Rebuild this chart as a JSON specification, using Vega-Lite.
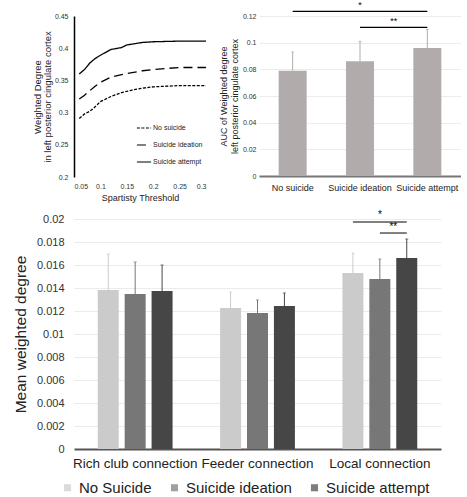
{
  "$schema": "https://vega.github.io/schema/vega-lite/v6.json",
  "padding": {"left": 13, "top": 0, "right": 0, "bottom": 0},
  "background": "white",
  "config": {
    "font": "Liberation Sans",
    "view": {"stroke": null},
    "axis": {"labelColor": "#333", "titleColor": "#222", "titleFontWeight": "normal", "labelOverlap": false}
  },
  "datasets": {
    "lines": [
      {"threshold": 0.06, "degree": 0.291, "group": "No suicide"},
      {"threshold": 0.07, "degree": 0.298, "group": "No suicide"},
      {"threshold": 0.08, "degree": 0.302, "group": "No suicide"},
      {"threshold": 0.09, "degree": 0.309, "group": "No suicide"},
      {"threshold": 0.10, "degree": 0.317, "group": "No suicide"},
      {"threshold": 0.12, "degree": 0.325, "group": "No suicide"},
      {"threshold": 0.14, "degree": 0.331, "group": "No suicide"},
      {"threshold": 0.16, "degree": 0.335, "group": "No suicide"},
      {"threshold": 0.18, "degree": 0.338, "group": "No suicide"},
      {"threshold": 0.20, "degree": 0.340, "group": "No suicide"},
      {"threshold": 0.25, "degree": 0.342, "group": "No suicide"},
      {"threshold": 0.30, "degree": 0.342, "group": "No suicide"},
      {"threshold": 0.06, "degree": 0.321, "group": "Suicide ideation"},
      {"threshold": 0.07, "degree": 0.327, "group": "Suicide ideation"},
      {"threshold": 0.08, "degree": 0.334, "group": "Suicide ideation"},
      {"threshold": 0.09, "degree": 0.341, "group": "Suicide ideation"},
      {"threshold": 0.10, "degree": 0.347, "group": "Suicide ideation"},
      {"threshold": 0.12, "degree": 0.355, "group": "Suicide ideation"},
      {"threshold": 0.14, "degree": 0.359, "group": "Suicide ideation"},
      {"threshold": 0.16, "degree": 0.362, "group": "Suicide ideation"},
      {"threshold": 0.18, "degree": 0.365, "group": "Suicide ideation"},
      {"threshold": 0.20, "degree": 0.367, "group": "Suicide ideation"},
      {"threshold": 0.25, "degree": 0.370, "group": "Suicide ideation"},
      {"threshold": 0.30, "degree": 0.370, "group": "Suicide ideation"},
      {"threshold": 0.06, "degree": 0.360, "group": "Suicide attempt"},
      {"threshold": 0.07, "degree": 0.367, "group": "Suicide attempt"},
      {"threshold": 0.08, "degree": 0.377, "group": "Suicide attempt"},
      {"threshold": 0.09, "degree": 0.384, "group": "Suicide attempt"},
      {"threshold": 0.10, "degree": 0.389, "group": "Suicide attempt"},
      {"threshold": 0.12, "degree": 0.398, "group": "Suicide attempt"},
      {"threshold": 0.14, "degree": 0.401, "group": "Suicide attempt"},
      {"threshold": 0.15, "degree": 0.405, "group": "Suicide attempt"},
      {"threshold": 0.18, "degree": 0.409, "group": "Suicide attempt"},
      {"threshold": 0.20, "degree": 0.410, "group": "Suicide attempt"},
      {"threshold": 0.25, "degree": 0.411, "group": "Suicide attempt"},
      {"threshold": 0.30, "degree": 0.411, "group": "Suicide attempt"}
    ],
    "auc": [
      {"group": "No suicide", "auc": 0.079, "upper": 0.093},
      {"group": "Suicide ideation", "auc": 0.086, "upper": 0.101},
      {"group": "Suicide attempt", "auc": 0.096, "upper": 0.110}
    ],
    "aucsig": [
      {"group": "No suicide", "y": 0.1235, "pair": "a"},
      {"group": "Suicide attempt", "y": 0.1235, "pair": "a"},
      {"group": "Suicide ideation", "y": 0.1115, "pair": "b"},
      {"group": "Suicide attempt", "y": 0.1115, "pair": "b"}
    ],
    "aucstars": [
      {"group": "Suicide ideation", "y": 0.1245, "label": "*", "pos": 0.5},
      {"group": "Suicide ideation", "y": 0.1125, "label": "**", "pos": 1}
    ],
    "mwd": [
      {"conn": "Rich club connection", "group": "No Suicide", "mean": 0.01383, "upper": 0.01696},
      {"conn": "Rich club connection", "group": "Suicide ideation", "mean": 0.01348, "upper": 0.01626},
      {"conn": "Rich club connection", "group": "Suicide attempt", "mean": 0.01374, "upper": 0.01600},
      {"conn": "Feeder connection", "group": "No Suicide", "mean": 0.01226, "upper": 0.01365},
      {"conn": "Feeder connection", "group": "Suicide ideation", "mean": 0.01183, "upper": 0.01296},
      {"conn": "Feeder connection", "group": "Suicide attempt", "mean": 0.01243, "upper": 0.01357},
      {"conn": "Local connection", "group": "No Suicide", "mean": 0.01530, "upper": 0.01704},
      {"conn": "Local connection", "group": "Suicide ideation", "mean": 0.01478, "upper": 0.01652},
      {"conn": "Local connection", "group": "Suicide attempt", "mean": 0.01660, "upper": 0.01826}
    ],
    "mwdsig": [
      {"conn": "Local connection", "group": "No Suicide", "y": 0.01974, "pair": "a"},
      {"conn": "Local connection", "group": "Suicide attempt", "y": 0.01974, "pair": "a"},
      {"conn": "Local connection", "group": "Suicide ideation", "y": 0.01878, "pair": "b"},
      {"conn": "Local connection", "group": "Suicide attempt", "y": 0.01878, "pair": "b"}
    ],
    "mwdstars": [
      {"conn": "Local connection", "y": 0.0199, "label": "*", "pos": 0.5},
      {"conn": "Local connection", "y": 0.0189, "label": "**", "pos": 0.667}
    ]
  },
  "vconcat": [
    {
      "hconcat": [
        {
          "width": 132,
          "height": 161,
          "data": {"name": "lines"},
          "mark": {"type": "line", "color": "black", "strokeWidth": 1.3},
          "encoding": {
            "x": {
              "field": "threshold", "type": "quantitative",
              "scale": {"domain": [0.05, 0.3], "nice": false, "zero": false},
              "axis": {"values": [0.05, 0.1, 0.15, 0.2, 0.25, 0.3], "format": ".2~f", "title": "Spartisty Threshold", "tickCount": 30,
                       "grid": false, "domain": false, "ticks": false, "labelFontSize": 7, "titleFontSize": 9, "labelPadding": 5, "titlePadding": 4}
            },
            "y": {
              "field": "degree", "type": "quantitative",
              "scale": {"domain": [0.2, 0.45], "nice": false, "zero": false},
              "axis": {"values": [0.2, 0.25, 0.3, 0.35, 0.4, 0.45], "format": ".2~f", "tickCount": 30,
                       "title": ["Weighted Degree", "in left posterior cingulate cortex"],
                       "grid": false, "domain": true, "domainColor": "black", "domainWidth": 1.5, "ticks": false,
                       "labelFontSize": 7, "titleFontSize": 9.5, "titleLineHeight": 10, "labelPadding": 6, "titlePadding": 2}
            },
            "strokeDash": {
              "field": "group", "type": "nominal",
              "scale": {"domain": ["No suicide", "Suicide ideation", "Suicide attempt"], "range": [[3, 1.5], [9, 5], [1, 0]]},
              "legend": {"orient": "none", "legendX": 62, "legendY": 104, "title": null, "labelFontSize": 7, "labelColor": "#222",
                         "symbolType": "stroke", "symbolStrokeColor": "black", "symbolSize": 200, "symbolStrokeWidth": 1.2, "rowPadding": 6, "labelOffset": 1}
            }
          }
        },
        {
          "width": 202,
          "height": 160,
          "encoding": {
            "x": {"field": "group", "type": "nominal", "sort": ["No suicide", "Suicide ideation", "Suicide attempt"],
                  "scale": {"paddingInner": 0, "paddingOuter": 0},
                  "axis": {"title": null, "labelAngle": 0, "labelFontSize": 9, "ticks": false, "domainColor": "#777", "domainWidth": 2, "labelPadding": 7, "labelColor": "#222"}}
          },
          "layer": [
            {
              "data": {"name": "auc"},
              "mark": {"type": "bar", "color": "#b1acab", "size": 28},
              "encoding": {
                "y": {"field": "auc", "type": "quantitative", "scale": {"domain": [0, 0.12], "nice": false},
                      "axis": {"values": [0, 0.02, 0.04, 0.06, 0.08, 0.1, 0.12], "format": ".2~f", "tickCount": 30,
                               "title": ["AUC of Weighted degree", "left posterior cingulate cortex"],
                               "titleFontSize": 9, "titleLineHeight": 11, "labelFontSize": 7, "domain": false, "ticks": false, "gridColor": "#ececec", "labelPadding": 3, "titlePadding": 3}}
              }
            },
            {
              "data": {"name": "auc"},
              "mark": {"type": "rule", "color": "#b1acab", "strokeWidth": 1},
              "encoding": {
                "y": {"field": "auc", "type": "quantitative"},
                "y2": {"field": "upper"}
              }
            },
            {
              "data": {"name": "auc"},
              "mark": {"type": "tick", "color": "#b1acab", "size": 3, "thickness": 1},
              "encoding": {
                "y": {"field": "upper", "type": "quantitative"}
              }
            },
            {
              "data": {"name": "aucsig"},
              "mark": {"type": "line", "color": "black", "strokeWidth": 1.3},
              "encoding": {
                "y": {"field": "y", "type": "quantitative"},
                "detail": {"field": "pair"}
              }
            },
            {
              "data": {"name": "aucstars"},
              "transform": [{"filter": "datum.pos == 0.5"}],
              "mark": {"type": "text", "fontSize": 9, "baseline": "bottom", "color": "black"},
              "encoding": {
                "y": {"field": "y", "type": "quantitative"},
                "text": {"field": "label"}
              }
            },
            {
              "data": {"name": "aucstars"},
              "transform": [{"filter": "datum.pos == 1"}],
              "mark": {"type": "text", "fontSize": 9, "baseline": "bottom", "color": "black"},
              "encoding": {
                "x": {"field": "group", "type": "nominal", "sort": ["No suicide", "Suicide ideation", "Suicide attempt"], "bandPosition": 1,
                      "axis": {"title": null, "labelAngle": 0, "labelFontSize": 9, "ticks": false, "domainColor": "#777", "domainWidth": 2, "labelPadding": 7, "labelColor": "#222"}},
                "y": {"field": "y", "type": "quantitative"},
                "text": {"field": "label"}
              }
            }
          ]
        }
      ],
      "spacing": 10
    },
    {
      "hconcat": [
        {
          "width": 367,
          "height": 230,
          "encoding": {
            "x": {"field": "conn", "type": "nominal", "sort": ["Rich club connection", "Feeder connection", "Local connection"],
                  "scale": {"paddingInner": 0.34, "paddingOuter": 0.17},
                  "axis": {"title": null, "labelAngle": 0, "labelFontSize": 13.5, "ticks": false, "domainColor": "#555", "domainWidth": 2, "labelPadding": 7, "labelColor": "#222"}}
          },
          "layer": [
            {
              "data": {"name": "mwd"},
              "mark": {"type": "bar", "size": 21},
              "encoding": {
                "xOffset": {"field": "group", "type": "nominal", "sort": ["No Suicide", "Suicide ideation", "Suicide attempt"],
                            "scale": {"paddingInner": 0, "paddingOuter": 0}},
                "y": {"field": "mean", "type": "quantitative", "scale": {"domain": [0, 0.02], "nice": false},
                      "axis": {"values": [0, 0.002, 0.004, 0.006, 0.008, 0.01, 0.012, 0.014, 0.016, 0.018, 0.02], "format": ".3~f", "tickCount": 30,
                               "title": "Mean weighted degree", "titleFontSize": 15.5, "labelFontSize": 11, "domain": false, "ticks": false,
                               "gridColor": "#ebebeb", "labelPadding": 10, "titlePadding": 8, "labelColor": "#333"}},
                "color": {"field": "group", "type": "nominal",
                          "scale": {"domain": ["No Suicide", "Suicide ideation", "Suicide attempt"], "range": ["#cbcbcb", "#777777", "#464646"]},
                          "legend": {"orient": "none", "legendX": -14, "legendY": 464, "direction": "horizontal", "title": null, "labelFontSize": 15, "labelColor": "#222",
                                     "symbolType": "square", "symbolSize": 50, "symbolStrokeWidth": 0, "columnPadding": 15, "labelOffset": 4}}
              }
            },
            {
              "data": {"name": "mwd"},
              "mark": {"type": "rule", "strokeWidth": 1},
              "encoding": {
                "xOffset": {"field": "group", "type": "nominal", "sort": ["No Suicide", "Suicide ideation", "Suicide attempt"]},
                "y": {"field": "mean", "type": "quantitative"},
                "y2": {"field": "upper"},
                "color": {"field": "group", "type": "nominal"}
              }
            },
            {
              "data": {"name": "mwd"},
              "mark": {"type": "tick", "size": 3, "thickness": 1},
              "encoding": {
                "xOffset": {"field": "group", "type": "nominal", "sort": ["No Suicide", "Suicide ideation", "Suicide attempt"]},
                "y": {"field": "upper", "type": "quantitative"},
                "color": {"field": "group", "type": "nominal"}
              }
            },
            {
              "data": {"name": "mwdsig"},
              "mark": {"type": "line", "color": "#555", "strokeWidth": 1.5},
              "encoding": {
                "xOffset": {"field": "group", "type": "nominal", "sort": ["No Suicide", "Suicide ideation", "Suicide attempt"]},
                "y": {"field": "y", "type": "quantitative"},
                "detail": {"field": "pair"}
              }
            },
            {
              "data": {"name": "mwdstars"},
              "transform": [{"filter": "datum.pos == 0.5"}],
              "mark": {"type": "text", "fontSize": 10, "baseline": "bottom", "color": "black"},
              "encoding": {
                "y": {"field": "y", "type": "quantitative"},
                "text": {"field": "label"}
              }
            },
            {
              "data": {"name": "mwdstars"},
              "transform": [{"filter": "datum.pos > 0.6"}],
              "mark": {"type": "text", "fontSize": 10, "baseline": "bottom", "color": "black"},
              "encoding": {
                "x": {"field": "conn", "type": "nominal", "sort": ["Rich club connection", "Feeder connection", "Local connection"], "bandPosition": 0.667,
                      "axis": {"title": null, "labelAngle": 0, "labelFontSize": 13.5, "ticks": false, "domainColor": "#555", "domainWidth": 2, "labelPadding": 7, "labelColor": "#222"}},
                "y": {"field": "y", "type": "quantitative"},
                "text": {"field": "label"}
              }
            }
          ]
        }
      ]
    }
  ],
  "spacing": 8
}
